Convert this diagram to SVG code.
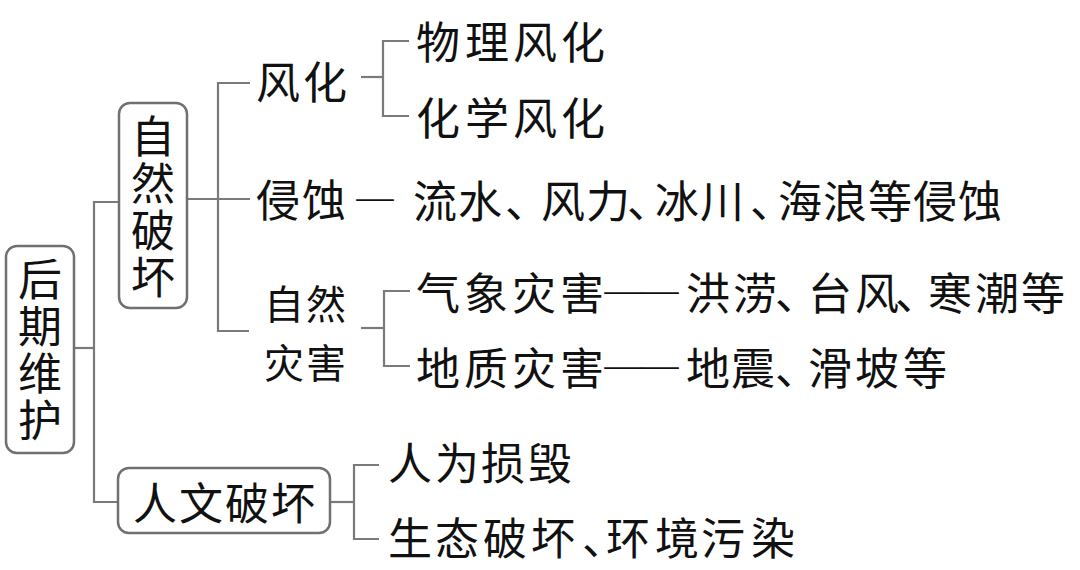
<svg xmlns="http://www.w3.org/2000/svg" width="1080" height="570" viewBox="0 0 1080 570">
<style>
.t{font-family:"Noto Sans CJK SC","Noto Sans CJK JP",sans-serif;font-size:44px;fill:#111;dominant-baseline:central}
.vt{font-family:"Noto Sans CJK SC","Noto Sans CJK JP",sans-serif;font-size:44px;fill:#111;writing-mode:vertical-rl;letter-spacing:3px}
.fw{font-feature-settings:"fwid" 1}
.box{fill:#fff;stroke:#707070;stroke-width:2.5}
.c{fill:none;stroke:#7a7a7a;stroke-width:2.2}
</style>
<rect width="1080" height="570" fill="#fff"/>
<g id="connectors">
<polyline class="c" points="74,348 94,348"/>
<polyline class="c" points="119,202 94,202 94,502 118,502"/>
<polyline class="c" points="187,199 250,199"/>
<polyline class="c" points="250,83 218,83 218,331 249,331"/>
<polyline class="c" points="361,77 383,77"/>
<polyline class="c" points="409,41 383,41 383,116 409,116"/>
<polyline class="c" points="361,328 384,328"/>
<polyline class="c" points="410,291 384,291 384,366 410,366"/>
<polyline class="c" points="330,502 354,502"/>
<polyline class="c" points="379,465 354,465 354,539 379,539"/>
</g>
<g id="n-houqiweihu">
<rect class="box" x="6" y="246" width="68" height="207" rx="11"/>
<text class="vt" x="40" y="257">后期维护</text>
</g>
<g id="n-ziranpohuai">
<rect class="box" x="119" y="103" width="68" height="205" rx="11"/>
<text class="vt" x="153" y="114">自然破坏</text>
</g>
<g id="n-renwenpohuai">
<rect class="box" x="118" y="468" width="212" height="65" rx="11"/>
<text class="t" x="133 179 225 271" y="501">人文破坏</text>
</g>
<g id="n-fenghua"><text class="t" x="256 303" y="80">风化</text></g>
<g id="n-wulifenghua"><text class="t" x="416 465 513 561" y="40">物理风化</text></g>
<g id="n-huaxuefenghua"><text class="t" x="416 465 513 561" y="116">化学风化</text></g>
<g id="n-qinshi">
<text class="t" x="256 302" y="198">侵蚀</text>
<text class="t fw" x="353" y="198">—</text>
</g>
<g id="n-qinshi-detail"><text class="t" x="413 458 505 541 586 627 655 700 750 778 823 868 913 958" y="199">流水、风力、冰川、海浪等侵蚀</text></g>
<g id="n-ziranzaihai">
<text class="t" style="font-size:40px"><tspan x="264 306" y="302">自然</tspan><tspan x="264 306" y="361">灾害</tspan></text>
</g>
<g id="n-qixiang"><text class="t fw" x="416 464 512 560 601 638 686 733 775 808 855 895 928 975 1021" y="291">气象灾害——洪涝、台风、寒潮等</text></g>
<g id="n-dizhi"><text class="t fw" x="416 464 512 560 601 638 686 731 775 808 855 903" y="366">地质灾害——地震、滑坡等</text></g>
<g id="n-renwei"><text class="t" x="388 435 481 528" y="461">人为损毁</text></g>
<g id="n-shengtai"><text class="t" x="388 435 483 531 582 606 655 701 751" y="536">生态破坏、环境污染</text></g>
</svg>
